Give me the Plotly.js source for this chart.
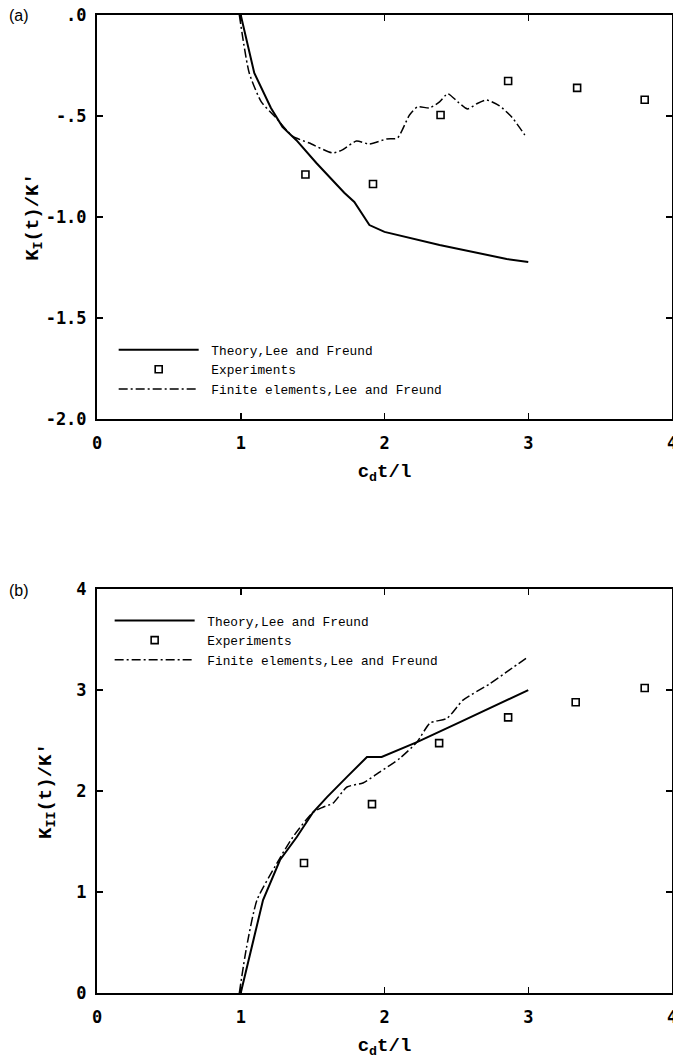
<!DOCTYPE html>
<html>
<head>
<meta charset="utf-8">
<script src="https://cdn.plot.ly/plotly-3.0.1.min.js"></script>
<style>html,body{margin:0;padding:0;background:#fff;}#chart{width:673px;height:1061px;}</style>
</head>
<body>
<div id="chart"></div>
<script>
// ---------- Panel (a): K_I(t)/K' ----------
const aTheoryX = [1.0, 1.094, 1.21, 1.29, 1.387, 1.526, 1.72, 1.79, 1.895, 2.0, 2.383, 2.85, 3.0];
const aTheoryY = [0.0, -0.287, -0.46, -0.554, -0.62, -0.733, -0.88, -0.926, -1.04, -1.074, -1.139, -1.208, -1.223];

const aExpX = [1.45, 1.92, 2.39, 2.86, 3.34, 3.81];
const aExpY = [-0.79, -0.837, -0.495, -0.327, -0.361, -0.42];

const aFemX = [0.99, 1.059, 1.143, 1.247, 1.36, 1.477, 1.638, 1.707, 1.805, 1.895, 2.014, 2.09, 2.174, 2.23, 2.314, 2.383, 2.44, 2.51, 2.578, 2.64, 2.71, 2.80, 2.885, 2.976];
const aFemY = [0.0, -0.287, -0.43, -0.51, -0.60, -0.634, -0.683, -0.668, -0.624, -0.639, -0.614, -0.609, -0.495, -0.455, -0.46, -0.43, -0.39, -0.43, -0.465, -0.44, -0.421, -0.45, -0.505, -0.594];

// ---------- Panel (b): K_II(t)/K' ----------
const bTheoryX = [1.0, 1.155, 1.273, 1.39, 1.503, 1.6, 1.739, 1.878, 1.98, 2.226, 2.525, 2.852, 3.0];
const bTheoryY = [0.0, 0.92, 1.317, 1.545, 1.79, 1.94, 2.14, 2.337, 2.337, 2.485, 2.683, 2.90, 3.0];

const bExpX = [1.44, 1.913, 2.38, 2.86, 3.33, 3.81];
const bExpY = [1.287, 1.87, 2.475, 2.73, 2.88, 3.02];

const bFemX = [0.99, 1.04, 1.113, 1.252, 1.363, 1.503, 1.572, 1.642, 1.739, 1.85, 1.969, 2.108, 2.226, 2.317, 2.435, 2.546, 2.73, 2.87, 3.0];
const bFemY = [0.0, 0.45, 0.92, 1.287, 1.545, 1.79, 1.84, 1.88, 2.04, 2.08, 2.19, 2.326, 2.485, 2.673, 2.72, 2.90, 3.06, 3.2, 3.33];

// ---------- Tick labels / text ----------
const xTickVals = [0, 1, 2, 3, 4];
const aYTickVals = [0, -0.5, -1.0, -1.5, -2.0];
const aYTickText = ['.0', '-.5', '-1.0', '-1.5', '-2.0'];
const bYTickVals = [0, 1, 2, 3, 4];
const bYTickText = ['0', '1', '2', '3', '4'];
const seriesNames = ['Theory,Lee and Freund', 'Experiments', 'Finite elements,Lee and Freund'];

const tickFont = {family: 'DejaVu Sans Mono, Liberation Mono, monospace', size: 17, color: '#000', weight: 'bold'};
const titleFont = {family: 'Liberation Mono, DejaVu Sans Mono, monospace', size: 19, color: '#000', weight: 'bold'};
const legendFont = {family: 'Liberation Mono, DejaVu Sans Mono, monospace', size: 12.8, color: '#000'};

const solidLine = {color: '#000', width: 2};
const femLine = {color: '#000', width: 1.5, dash: '9px,3px,2px,3px', shape: 'spline', smoothing: 0.6};
const expMarker = {symbol: 'square-open', size: 7, color: '#000', line: {color: '#000', width: 1.6}};

const pad = '\u00a0';
const traces = [
  {x: aTheoryX, y: aTheoryY, mode: 'lines', name: pad + seriesNames[0], line: solidLine, xaxis: 'x', yaxis: 'y', legend: 'legend'},
  {x: aExpX, y: aExpY, mode: 'markers', name: pad + seriesNames[1], marker: expMarker, xaxis: 'x', yaxis: 'y', legend: 'legend'},
  {x: aFemX, y: aFemY, mode: 'lines', name: pad + seriesNames[2], line: femLine, xaxis: 'x', yaxis: 'y', legend: 'legend'},
  {x: bTheoryX, y: bTheoryY, mode: 'lines', name: pad + seriesNames[0], line: solidLine, xaxis: 'x2', yaxis: 'y2', legend: 'legend2'},
  {x: bExpX, y: bExpY, mode: 'markers', name: pad + seriesNames[1], marker: expMarker, xaxis: 'x2', yaxis: 'y2', legend: 'legend2'},
  {x: bFemX, y: bFemY, mode: 'lines', name: pad + seriesNames[2], line: femLine, xaxis: 'x2', yaxis: 'y2', legend: 'legend2'}
];

const axisCommon = {
  showline: true, linecolor: '#000', linewidth: 2, mirror: 'ticks',
  ticks: 'inside', ticklen: 6, tickwidth: 1.5, tickcolor: '#000',
  showgrid: false, zeroline: false, tickfont: tickFont, fixedrange: true
};

const layout = {
  width: 673, height: 1061,
  margin: {l: 97, r: 1, t: 15, b: 68, pad: 0},
  paper_bgcolor: '#fff', plot_bgcolor: '#fff',
  showlegend: true,
  xaxis: Object.assign({}, axisCommon, {domain: [0, 1], anchor: 'y', range: [0, 4], tickvals: xTickVals, ticklabelstandoff: 8,
    ticklabeloverflow: 'allow', title: {text: 'c<sub>d</sub>t/l', font: titleFont, standoff: 11}}),
  yaxis: Object.assign({}, axisCommon, {domain: [0.587, 1], anchor: 'x', range: [-2, 0], tickvals: aYTickVals, ticktext: aYTickText, ticklabelstandoff: 5,
    title: {text: 'K<sub>I</sub>(t)/K\u2032', font: titleFont, standoff: 2}}),
  xaxis2: Object.assign({}, axisCommon, {domain: [0, 1], anchor: 'y2', range: [0, 4], tickvals: xTickVals, ticklabelstandoff: 8,
    ticklabeloverflow: 'allow', title: {text: 'c<sub>d</sub>t/l', font: titleFont, standoff: 11}}),
  yaxis2: Object.assign({}, axisCommon, {domain: [0, 0.413], anchor: 'x2', range: [0, 4], tickvals: bYTickVals, ticktext: bYTickText, ticklabelstandoff: 5,
    title: {text: 'K<sub>II</sub>(t)/K\u2032', font: titleFont, standoff: 20}}),
  legend: {x: 0.029, y: 0.673, xanchor: 'left', yanchor: 'top', bgcolor: 'rgba(0,0,0,0)', borderwidth: 0,
    font: legendFont, itemwidth: 80, tracegroupgap: 0},
  legend2: {x: 0.022, y: 0.396, xanchor: 'left', yanchor: 'top', bgcolor: 'rgba(0,0,0,0)', borderwidth: 0,
    font: legendFont, itemwidth: 80, tracegroupgap: 0},
  annotations: [
    {text: '(a)', xref: 'paper', yref: 'paper', x: -0.135, y: 1.0, xanchor: 'center', yanchor: 'middle', showarrow: false,
      font: {family: 'Liberation Sans, Arial, sans-serif', size: 16, color: '#000'}},
    {text: '(b)', xref: 'paper', yref: 'paper', x: -0.135, y: 0.412, xanchor: 'center', yanchor: 'middle', showarrow: false,
      font: {family: 'Liberation Sans, Arial, sans-serif', size: 16, color: '#000'}}
  ]
};

Plotly.newPlot('chart', traces, layout, {staticPlot: true, displayModeBar: false});
</script>
</body>
</html>
